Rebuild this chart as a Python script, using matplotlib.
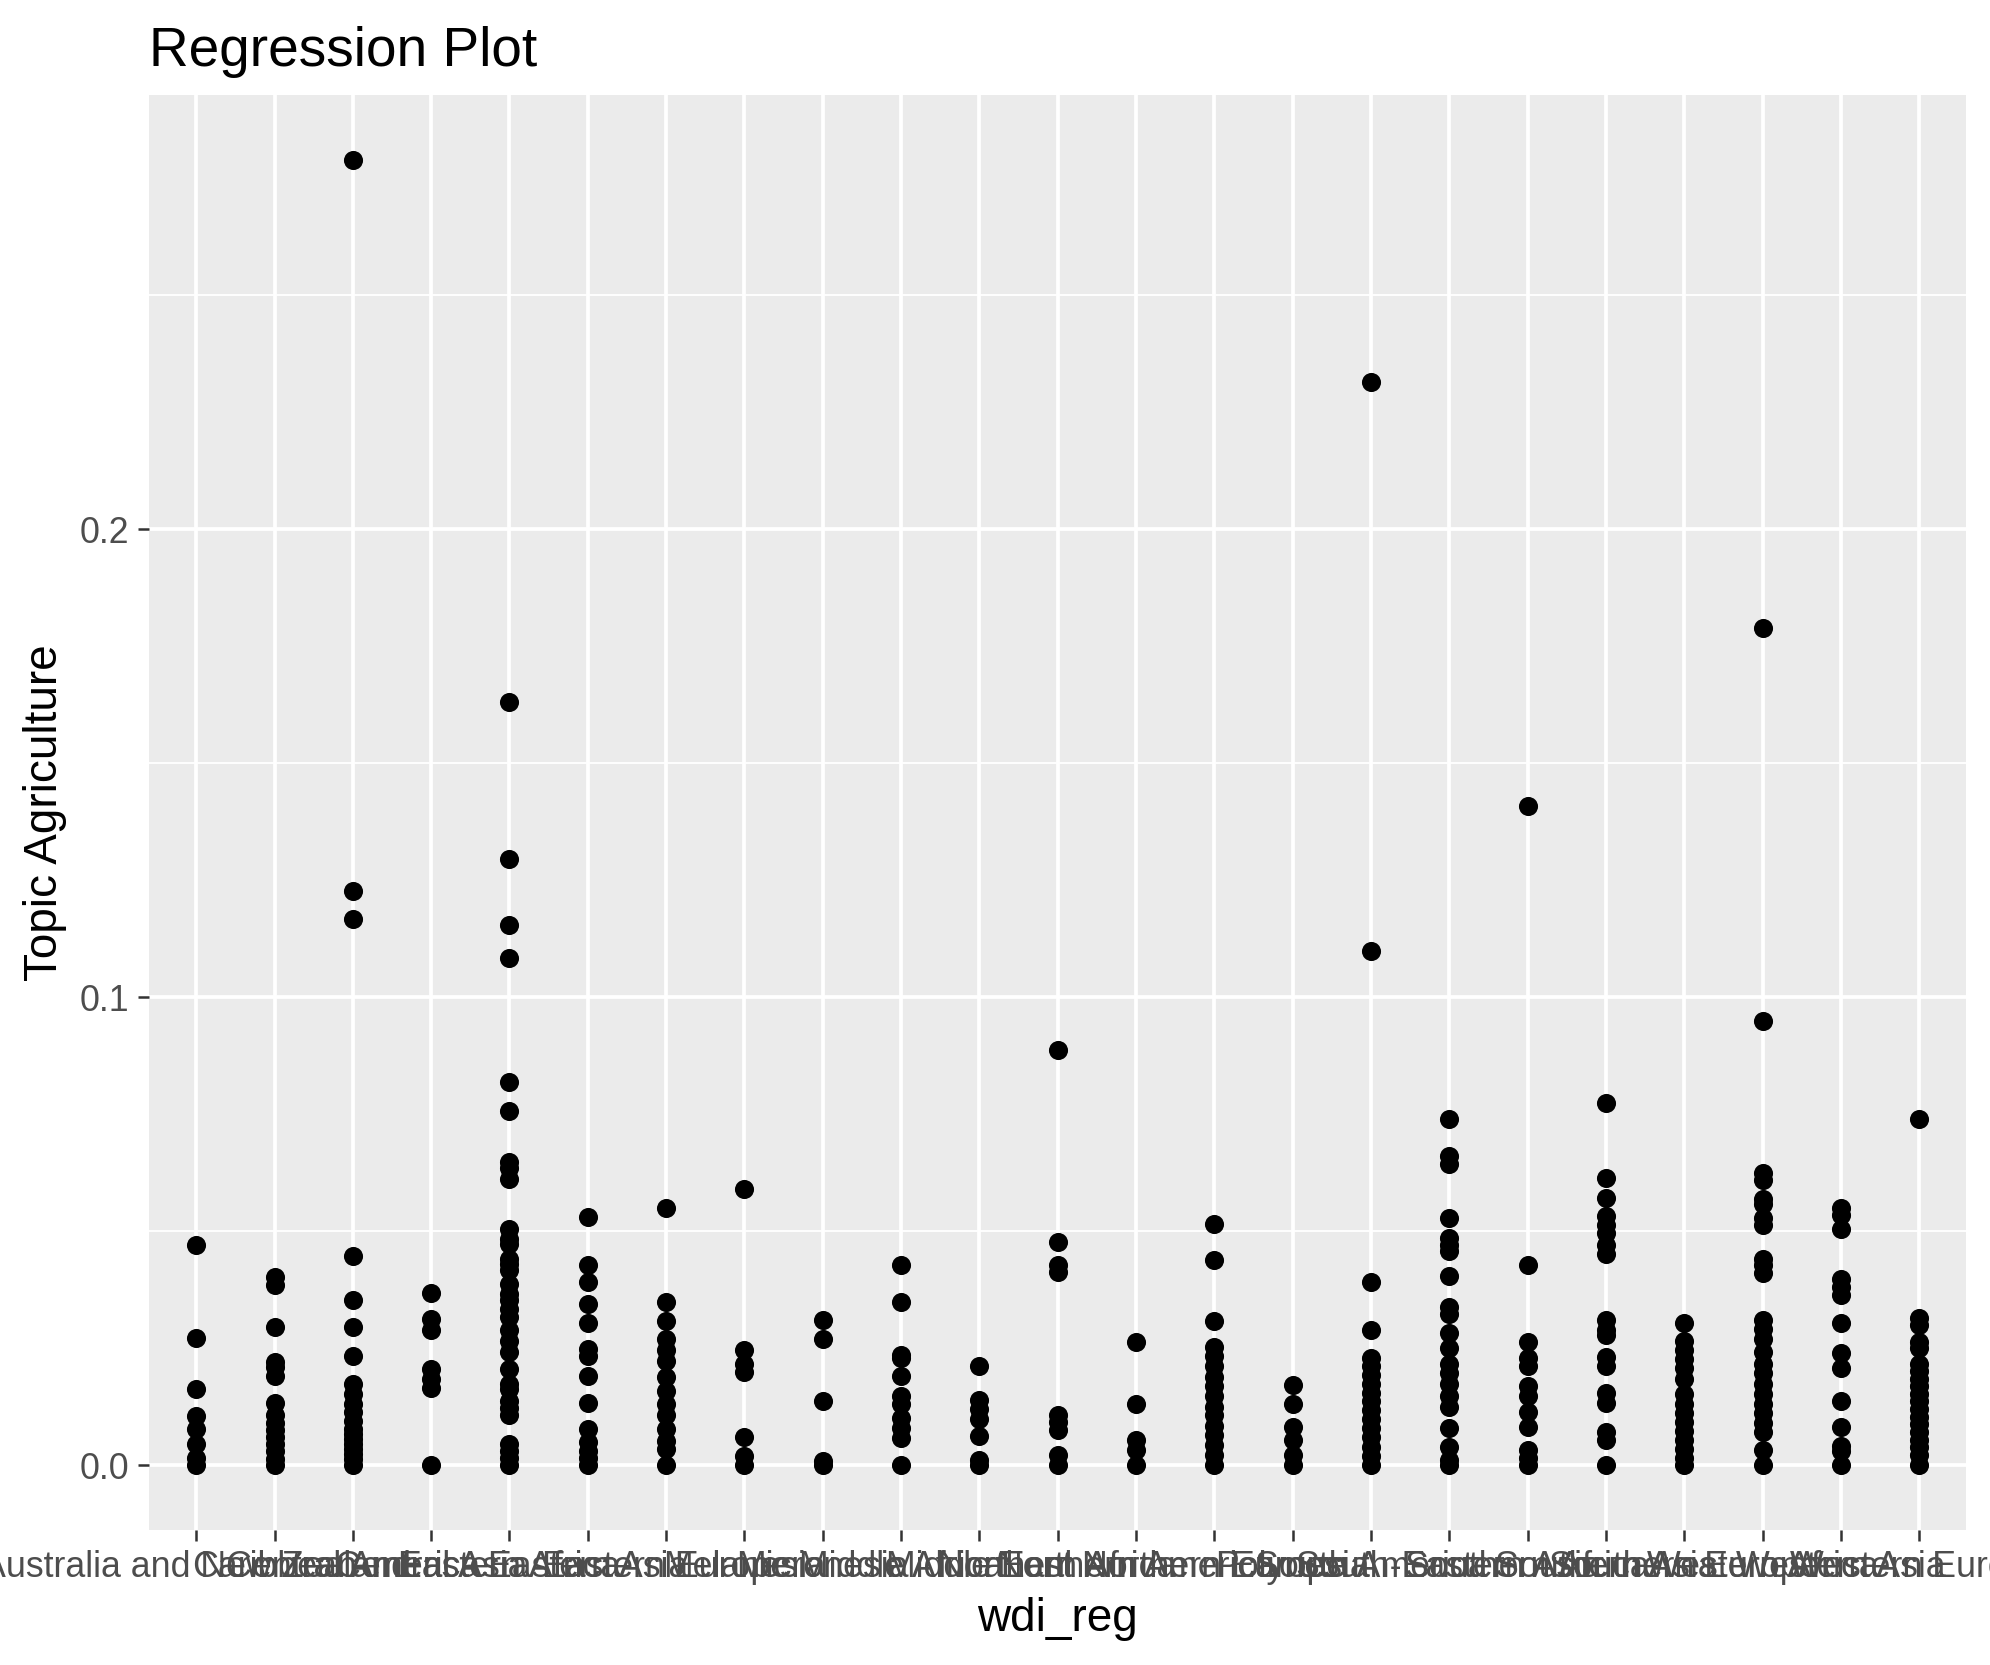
import matplotlib.pyplot as plt

# categories on the x axis (ggplot-style overlapping labels)
regions = [
    "Australia and New Zealand", "Caribbean", "Central America", "Central Asia",
    "Eastern Africa", "Eastern Asia", "Eastern Europe", "Melanesia", "Micronesia",
    "Middle Africa", "Middle East", "Northern Africa", "Northern America",
    "Northern Europe", "Polynesia", "South America", "South-Eastern Asia",
    "Southern Africa", "Southern Asia", "Southern Europe", "Western Africa",
    "Western Asia", "Western Europe",
]

# topic agriculture values, one list per region
values = [
    [0.0471, 0.0272, 0.0163, 0.0105, 0.0077, 0.0044, 0.0016, 0.0],
    [0.0402, 0.0384, 0.0295, 0.022, 0.0209, 0.0191, 0.0132, 0.0106, 0.0091, 0.0074,
     0.0059, 0.0045, 0.0031, 0.0013, 0.0],
    [0.2788, 0.1226, 0.1166, 0.0447, 0.0352, 0.0295, 0.0234, 0.0173, 0.0152, 0.0131,
     0.0113, 0.0095, 0.0077, 0.0066, 0.0056, 0.0045, 0.0034, 0.0024, 0.0013, 0.0],
    [0.0368, 0.0313, 0.0288, 0.0206, 0.0184, 0.0165, 0.0],
    [0.163, 0.1296, 0.1155, 0.1084, 0.0818, 0.0757, 0.0648, 0.0634, 0.0611, 0.0505,
     0.0484, 0.0473, 0.0441, 0.043, 0.0416, 0.0388, 0.0366, 0.0352, 0.0334, 0.0316,
     0.0288, 0.0266, 0.0241, 0.0206, 0.0173, 0.0163, 0.0138, 0.0123, 0.0106, 0.0045,
     0.0031, 0.0016, 0.0],
    [0.053, 0.0427, 0.0391, 0.0345, 0.0303, 0.0248, 0.0234, 0.0191, 0.0132, 0.0077,
     0.0049, 0.0031, 0.0016, 0.0],
    [0.055, 0.0348, 0.0308, 0.027, 0.0245, 0.0223, 0.0188, 0.0159, 0.0131, 0.0106,
     0.0077, 0.0052, 0.0034, 0.0],
    [0.0591, 0.0246, 0.0216, 0.0198, 0.0061, 0.002, 0.0],
    [0.0309, 0.027, 0.0138, 0.0009, 0.0],
    [0.0427, 0.0348, 0.0236, 0.0228, 0.019, 0.0147, 0.013, 0.0101, 0.0079, 0.0057, 0.0],
    [0.0212, 0.0139, 0.012, 0.0098, 0.0063, 0.0011, 0.0],
    [0.0886, 0.0476, 0.0427, 0.0413, 0.0106, 0.0092, 0.0076, 0.0022, 0.0],
    [0.0264, 0.013, 0.0054, 0.0033, 0.0],
    [0.0516, 0.0438, 0.0307, 0.0253, 0.0234, 0.0212, 0.0188, 0.0168, 0.0147, 0.0125,
     0.0106, 0.0084, 0.0065, 0.0043, 0.0022, 0.0],
    [0.0171, 0.013, 0.0082, 0.0054, 0.0022, 0.0],
    [0.2315, 0.1098, 0.0391, 0.0288, 0.0228, 0.0212, 0.0193, 0.0174, 0.0155, 0.0136,
     0.0117, 0.0098, 0.0079, 0.006, 0.0038, 0.0019, 0.0],
    [0.0739, 0.066, 0.0644, 0.0527, 0.0486, 0.047, 0.0457, 0.0405, 0.0337, 0.0323,
     0.0283, 0.025, 0.0215, 0.0196, 0.0174, 0.0147, 0.0125, 0.0079, 0.0038, 0.0011, 0.0],
    [0.1408, 0.0427, 0.0264, 0.0228, 0.0212, 0.0168, 0.0147, 0.0114, 0.0082, 0.0033,
     0.0016, 0.0],
    [0.0774, 0.0614, 0.0571, 0.0533, 0.0514, 0.0495, 0.047, 0.0451, 0.031, 0.0288,
     0.0277, 0.0231, 0.0212, 0.0155, 0.0133, 0.0071, 0.0054, 0.0],
    [0.0304, 0.0266, 0.0247, 0.0226, 0.0207, 0.0185, 0.0152, 0.013, 0.0111, 0.0092,
     0.0073, 0.0054, 0.0035, 0.0016, 0.0],
    [0.1788, 0.0948, 0.0625, 0.0609, 0.0568, 0.0557, 0.0527, 0.0514, 0.044, 0.0427,
     0.041, 0.031, 0.0291, 0.0269, 0.0242, 0.0217, 0.0196, 0.0174, 0.0152, 0.013,
     0.0111, 0.009, 0.0071, 0.0033, 0.0],
    [0.0549, 0.0535, 0.0505, 0.0397, 0.038, 0.0364, 0.0304, 0.0239, 0.0207, 0.0136,
     0.0082, 0.0041, 0.003, 0.0],
    [0.0739, 0.0315, 0.0299, 0.0264, 0.025, 0.0215, 0.0201, 0.0185, 0.0168, 0.0152,
     0.0136, 0.012, 0.0103, 0.0087, 0.0071, 0.0054, 0.0038, 0.0022, 0.0],
]

plt.rcParams['font.family'] = ['Liberation Sans', 'DejaVu Sans']

fig = plt.figure(figsize=(1990 / 300, 1665 / 300), dpi=300)
ax = fig.add_axes([0.075, 0.081, 0.913, 0.862])

ax.set_facecolor('#EBEBEB')
for s in ax.spines.values():
    s.set_visible(False)

for i, vals in enumerate(values):
    ax.scatter([i] * len(vals), vals, s=21, color='black', linewidths=0, zorder=3)

ax.set_xlim(-0.6, len(regions) - 0.4)
ax.set_ylim(-0.0139, 0.2928)
ax.set_xticks(range(len(regions)))
ax.set_xticklabels(regions)
ax.set_yticks([0.0, 0.1, 0.2])
ax.set_yticklabels(['0.0', '0.1', '0.2'])
ax.set_yticks([0.05, 0.15, 0.25], minor=True)

ax.grid(which='major', color='white', linewidth=0.9, zorder=0)
ax.grid(which='minor', axis='y', color='white', linewidth=0.45, zorder=0)
ax.set_axisbelow(True)

ax.tick_params(which='major', length=2.75, width=0.6, color='#333333',
               labelsize=8.6, labelcolor='#4D4D4D', pad=2)
ax.tick_params(which='minor', length=0)

ax.set_xlabel('wdi_reg', fontsize=11, labelpad=3)
ax.set_ylabel('Topic Agriculture', fontsize=11, labelpad=3)
ax.set_title('Regression Plot', fontsize=13.2, loc='left', pad=7)

fig.savefig('out.png', dpi=300)
